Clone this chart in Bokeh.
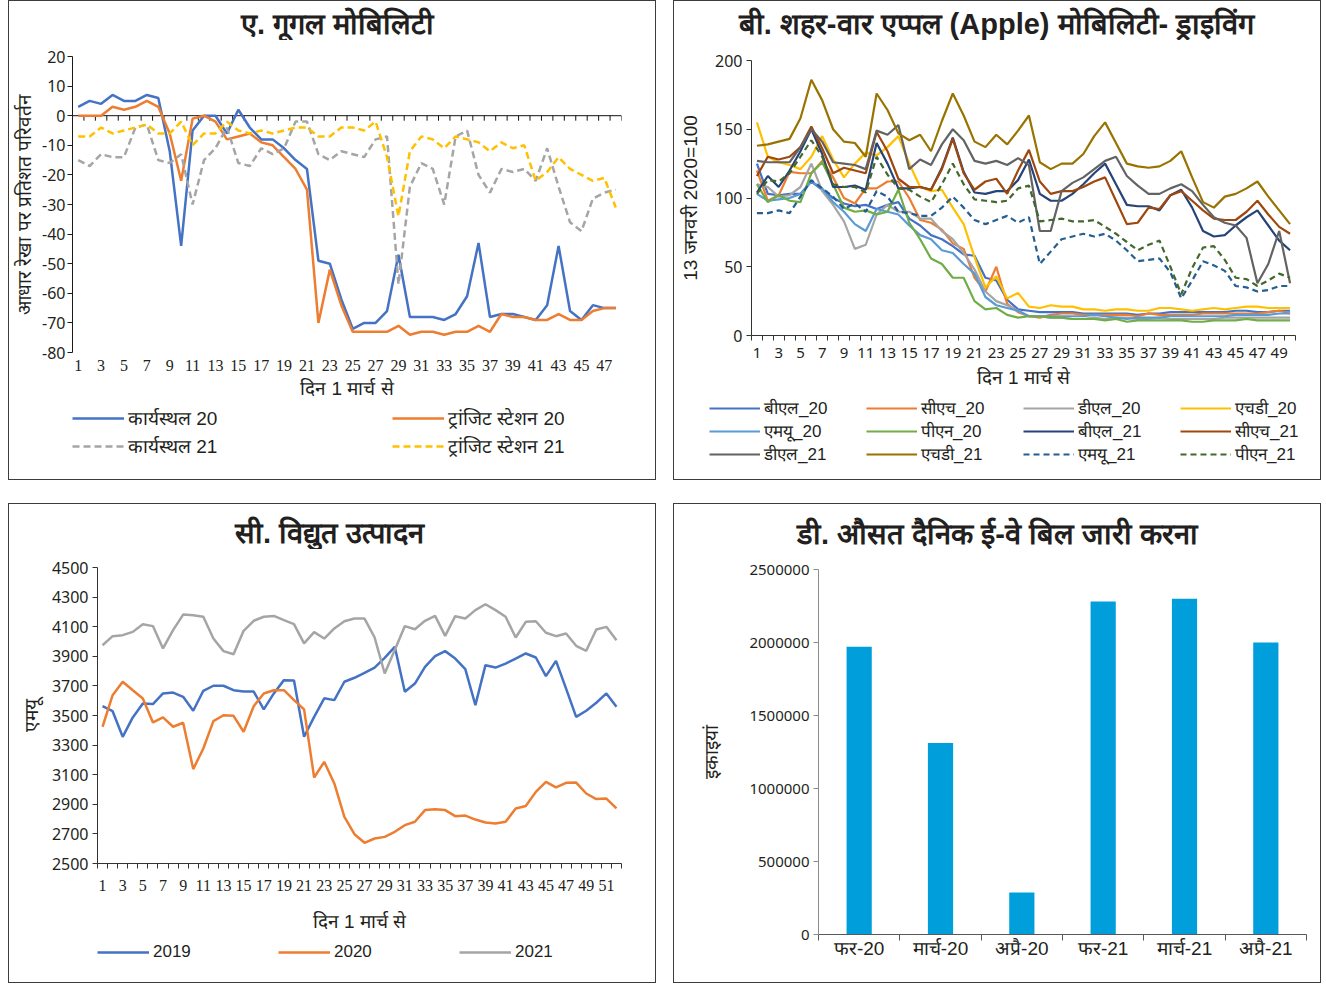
from math import pi

from bokeh.embed import file_html
from bokeh.layouts import column, row
from bokeh.models import FixedTicker, Label, Legend, LegendItem, NumeralTickFormatter, Range1d, Span
from bokeh.plotting import figure
from bokeh.resources import INLINE

HINDI = "Liberation Sans"
SANS = "Noto Sans"
SERIF = "Liberation Serif"
INK = "#231f20"
EDGE = "1px solid #3c3c3c"
NAN = float("nan")

# ---------------- A. Google mobility (days from 1 March) ----------------
google_days = list(range(1, 49))
workplace_20 = [3, 5, 4, 7, 5, 5, 7, 6, -12, -44, -5, 0, 0, -6, 2, -4, -8, -8, -11, -15, -18, -49, -50, -62,
                -72, -70, -70, -66, -47, -68, -68, -68, -69, -67, -61, -43, -68, -67, -67, -68, -69, -64, -44, -66,
                -69, -64, -65, -65]
transit_20 = [0, 0, 0, 3, 2, 3, 5, 3, -6, -22, -1, 0, -2, -8, -7, -6, -9, -10, -14, -18, -25, -70, -52, -64,
              -73, -73, -73, -73, -71, -74, -73, -73, -74, -73, -73, -71, -73, -67, -68, -68, -69, -69, -67, -69,
              -69, -66, -65, -65]
workplace_21 = [-15, -17, -13, -14, -14, -4, -3, -15, -16, -13, -30, -15, -11, -4, -16, -17, -11, -13, -11, -2,
                -2, -13, -15, -12, -13, -14, -8, -7, -57, -24, -16, -18, -30, -7, -5, -20, -26, -18, -19, -18, -22,
                -11, -24, -36, -39, -28, -26, -25]
transit_21 = [-7, -7, -4, -6, -5, -4, -3, -6, -6, -2, -10, -6, -6, -2, -5, -6, -5, -6, -5, -4, -4, -7, -7, -4,
              -4, -5, -2, -14, -34, -12, -7, -8, -11, -7, -8, -9, -12, -9, -11, -10, -22, -19, -14, -18, -20, -22,
              -21, -31]
google_labels = ["कार्यस्थल 20", "ट्रांजिट स्टेशन 20", "कार्यस्थल 21", "ट्रांजिट स्टेशन 21"]
google_ticks = list(range(-80, 21, 10))

# ---------------- B. City-wise Apple mobility, driving ----------------
apple_days = list(range(1, 51))
bl_20 = [125, 103, 102, 103, 103, 112, 106, 100, 96, 94, 95, 92, 95, 97, 85, 80, 73, 70, 65, 59, 58, 42, 40, 26,
         19, 18, 17, 17, 17, 17, 16, 16, 16, 16, 16, 15, 16, 16, 17, 17, 17, 17, 17, 17, 18, 18, 17, 17, 18, 18]
ch_20 = [120, 98, 102, 119, 118, 118, 127, 115, 100, 96, 107, 107, 112, 112, 100, 84, 82, 77, 67, 63, 42, 32, 50,
         23, 17, 14, 13, 15, 16, 16, 15, 15, 15, 15, 15, 14, 16, 15, 15, 15, 15, 16, 16, 16, 16, 16, 16, 17, 18, 16]
dl_20 = [110, 108, 101, 102, 108, 125, 105, 95, 83, 63, 66, 88, 95, 90, 90, 85, 85, 76, 70, 60, 48, 32, 25, 22,
         18, 14, 14, 13, 13, 12, 12, 13, 12, 13, 13, 12, 12, 13, 12, 12, 12, 12, 12, 13, 13, 13, 13, 13, 13, 13]
hd_20 = [155, 130, 126, 124, 121, 130, 145, 128, 115, 125, 133, 131, 137, 145, 125, 108, 105, 106, 93, 81, 57, 35,
         43, 27, 31, 21, 20, 22, 21, 21, 19, 19, 18, 19, 19, 18, 18, 20, 20, 19, 18, 19, 20, 19, 20, 21, 21, 20, 20, 20]
mu_20 = [103, 98, 99, 100, 103, 112, 107, 97, 90, 81, 76, 92, 90, 88, 80, 73, 70, 62, 60, 52, 45, 28, 22, 20,
         18, 14, 14, 14, 14, 14, 14, 15, 14, 13, 12, 13, 13, 13, 14, 14, 14, 14, 14, 14, 15, 15, 15, 15, 16, 16]
pn_20 = [110, 97, 102, 98, 97, 118, 126, 110, 93, 90, 91, 88, 90, 106, 82, 70, 56, 52, 42, 42, 25, 19, 20, 15,
         13, 14, 14, 13, 13, 12, 12, 12, 11, 12, 10, 11, 11, 11, 11, 11, 10, 10, 11, 11, 11, 12, 11, 11, 11, 11]
bl_21 = [104, 116, 108, 120, 134, 150, 132, 108, 108, 109, 106, 140, 125, 107, 107, 108, 106, 122, 144, 119, 104,
         103, 105, 105, 113, 128, 103, 98, 98, 103, 110, 118, 125, 110, 95, 94, 94, 91, 102, 106, 93, 76, 72, 73,
         80, 86, 91, 80, 69, 62]
ch_21 = [116, 130, 128, 130, 137, 152, 136, 118, 122, 120, 118, 148, 134, 114, 108, 108, 106, 121, 143, 118, 106,
         112, 114, 103, 120, 135, 112, 103, 105, 105, 108, 112, 115, 98, 81, 82, 93, 92, 102, 105, 98, 91, 85, 84,
         84, 90, 98, 88, 79, 74]
dl_21 = [127, 126, 126, 126, 137, 150, 141, 126, 125, 124, 121, 149, 146, 153, 121, 128, 124, 139, 150, 142, 127,
         125, 127, 124, 129, 124, 76, 76, 105, 111, 115, 121, 127, 130, 116, 109, 103, 103, 107, 110, 105, 95, 86,
         82, 80, 71, 38, 52, 76, 38]
hd_21 = [138, 139, 141, 143, 158, 186, 171, 150, 141, 140, 130, 176, 164, 147, 142, 146, 134, 156, 176, 160, 141,
         137, 146, 139, 149, 160, 126, 121, 125, 125, 132, 145, 155, 140, 125, 123, 122, 123, 127, 134, 115, 97, 93,
         101, 103, 107, 112, 101, 91, 81]
mu_21 = [89, 89, 91, 89, 101, 113, 107, 101, 92, 96, 90, 105, 101, 90, 89, 87, 87, 93, 101, 93, 84, 81, 84, 87, 82,
         86, 52, 61, 70, 72, 74, 72, 74, 69, 62, 54, 55, 56, 46, 27, 40, 54, 51, 47, 36, 35, 32, 33, 36, 36]
pn_21 = [103, 113, 112, 118, 130, 142, 130, 110, 108, 108, 104, 130, 117, 107, 106, 101, 97, 110, 125, 110, 99, 98,
         97, 98, 107, 109, 83, 84, 85, 83, 83, 84, 79, 74, 68, 62, 66, 69, 50, 30, 49, 64, 65, 55, 42, 41, 36, 40, 45,
         42]
apple_labels = ["बीएल_20", "सीएच_20", "डीएल_20", "एचडी_20", "एमयू_20", "पीएन_20",
                "बीएल_21", "सीएच_21", "डीएल_21", "एचडी_21", "एमयू_21", "पीएन_21"]

# ---------------- C. Electricity generation (MU) ----------------
power_days = list(range(1, 53))
gen_2019 = [3563, 3529, 3356, 3487, 3581, 3577, 3649, 3655, 3626, 3532, 3667, 3701, 3701, 3671, 3662, 3662, 3541,
            3649, 3739, 3737, 3356, 3491, 3616, 3604, 3728, 3755, 3788, 3824, 3890, 3964, 3660, 3716, 3829, 3901,
            3935, 3885, 3813, 3570, 3840, 3824, 3851, 3885, 3919, 3892, 3766, 3869, 3682, 3491, 3532, 3586, 3649,
            3559]
gen_2020 = [3424, 3637, 3728, 3671, 3615, 3453, 3487, 3424, 3451, 3138, 3277, 3462, 3502, 3498, 3390, 3563, 3649,
            3671, 3671, 3604, 3541, 3081, 3187, 3041, 2815, 2698, 2640, 2669, 2680, 2714, 2759, 2782, 2861, 2867,
            2861, 2820, 2824, 2797, 2777, 2771, 2782, 2872, 2888, 2984, 3052, 3014, 3045, 3047, 2973, 2935, 2939,
            2872]
gen_2021 = [3975, 4036, 4043, 4065, 4117, 4104, 3953, 4077, 4182, 4178, 4167, 4020, 3935, 3914, 4072, 4140, 4167,
            4173, 4144, 4117, 3987, 4063, 4020, 4088, 4137, 4155, 4155, 4027, 3784, 3942, 4104, 4083, 4140, 4173,
            4038, 4171, 4155, 4212, 4252, 4212, 4167, 4027, 4133, 4137, 4059, 4036, 4054, 3971, 3937, 4081, 4099,
            4009]
power_labels = ["2019", "2020", "2021"]

# ---------------- D. Average daily e-way bills generated ----------------
months = ["फर-20", "मार्च-20", "अप्रै-20", "फर-21", "मार्च-21", "अप्रै-21"]
eway_bills = [1971000, 1312000, 288000, 2280000, 2300000, 2000000]


def blank_strip(height, styles):
    f = figure(width=648, height=height, x_range=Range1d(0, 1), y_range=Range1d(0, 1),
               x_axis_type=None, y_axis_type=None, output_backend="svg", toolbar_location=None,
               min_border=0, min_border_left=0, min_border_right=0, min_border_top=0, min_border_bottom=0)
    f.styles = styles
    f.outline_line_color = None
    return f


def title_strip(text, cx, cy, height):
    """Heading band across the top of a panel; cx, cy in pixels from its bottom-left."""
    f = blank_strip(height, {"border": EDGE, "border-bottom": "none"})
    f.add_layout(Label(x=cx, y=cy, x_units="screen", y_units="screen", text=text,
                       text_align="center", text_baseline="middle",
                       text_font=HINDI, text_font_size="29px", text_font_style="bold", text_color=INK))
    return f


def key_strip(height, styles, labels, x, y, ncols, glyph_w, row_h, label_w, font_size, spacing, width):
    """Band below a chart holding only its legend."""
    f = blank_strip(height, {"border": EDGE, "border-top": "none"})
    items = []
    for (col, dash), lab in zip(styles, labels):
        r = f.line(x=[NAN], y=[NAN], line_color=col, line_width=width, line_dash=dash)
        items.append(LegendItem(label=lab, renderers=[r]))
    f.add_layout(Legend(items=items, location=(x, y), orientation="horizontal", ncols=ncols,
                        glyph_width=glyph_w, glyph_height=row_h, label_height=row_h, label_width=label_w,
                        label_standoff=4, spacing=spacing, padding=0, margin=0,
                        border_line_color=None, background_fill_alpha=0,
                        label_text_font=HINDI, label_text_font_size=font_size, label_text_color=INK))
    return f


def chart(x_range, y_range, height, left, right, top, bottom, styles):
    p = figure(width=648, height=height, x_range=x_range, y_range=y_range,
               output_backend="svg", toolbar_location=None, min_border=0,
               min_border_left=left, min_border_right=right,
               min_border_top=top, min_border_bottom=bottom)
    p.styles = styles
    p.grid.visible = False
    p.outline_line_color = None
    return p


def style_axis(ax, font, size, color="#1a1a1a"):
    ax.axis_line_color = color
    ax.major_tick_line_color = color
    ax.minor_tick_line_color = color
    ax.major_label_text_font = font
    ax.major_label_text_font_size = size
    ax.major_label_text_color = INK
    ax.axis_label_text_font = HINDI
    ax.axis_label_text_font_size = "19px"
    ax.axis_label_text_font_style = "normal"
    ax.axis_label_text_color = INK


def boundaries(days):
    return [d - 0.5 for d in days] + [days[-1] + 0.5]


def category_ticks(days, step=2):
    """Labels on every other day, tick marks on the boundaries between days."""
    return FixedTicker(ticks=days[::step], minor_ticks=boundaries(days))


SIDES = {"border-left": EDGE, "border-right": EDGE}
SIDES_BOTTOM = {"border": EDGE, "border-top": "none"}

# ---- panel A ----
ta = title_strip("ए. गूगल मोबिलिटी", 328, 18, 40)
pa = chart(Range1d(google_days[0] - 0.5, google_days[-1] + 0.5), Range1d(-80, 20),
           364, 63, 36, 16, 52, SIDES)
pa.add_layout(Span(location=0, dimension="width", line_color="#111111", line_width=1, level="underlay"))
edges = boundaries(google_days)
pa.ray(x=edges, y=[0] * len(edges), length=5, length_units="screen", angle=-pi / 2,
       line_color="#111111", line_width=1)
google_styles = [("#4472c4", "solid"), ("#ed7d31", "solid"), ("#a5a5a5", "7 4"), ("#ffc000", "7 4")]
for vals, (col, dash) in zip([workplace_20, transit_20, workplace_21, transit_21], google_styles):
    pa.line(google_days, vals, line_color=col, line_width=2.5, line_dash=dash)

style_axis(pa.xaxis[0], SERIF, "16px")
pa.xaxis.ticker = FixedTicker(ticks=google_days[::2])
pa.xaxis.axis_line_color = None
pa.xaxis.major_tick_out = 0
pa.xaxis.major_tick_in = 0
pa.xaxis.minor_tick_out = 0
pa.xaxis.minor_tick_in = 0
pa.xaxis.major_label_standoff = 7
pa.xaxis.axis_label = "दिन 1 मार्च से"
pa.xaxis.axis_label_standoff = 4

style_axis(pa.yaxis[0], SANS, "16px")
pa.yaxis.ticker = FixedTicker(ticks=google_ticks)
pa.yaxis.major_label_overrides = {t: str(t) for t in google_ticks}
pa.yaxis.major_tick_out = 5
pa.yaxis.major_tick_in = 0
pa.yaxis.minor_tick_out = 0
pa.yaxis.major_label_standoff = 2
pa.yaxis.axis_label = "आधार रेखा पर प्रतिशत परिवर्तन"
pa.yaxis.axis_label_standoff = 4
ka = key_strip(76, google_styles, google_labels, 63, 21, 2, 52, 24, 262, "19px", 2, 2.5)

# ---- panel B ----
tb = title_strip("बी. शहर-वार एप्पल (Apple) मोबिलिटी- ड्राइविंग", 322, 18, 40)
pb = chart(Range1d(apple_days[0] - 0.5, apple_days[-1] + 0.5), Range1d(0, 200),
           352, 77, 27, 20, 57, SIDES)
apple_styles = [("#4472c4", "solid"), ("#ed7d31", "solid"), ("#a5a5a5", "solid"), ("#ffc000", "solid"),
                ("#5b9bd5", "solid"), ("#70ad47", "solid"), ("#264478", "solid"), ("#9e480e", "solid"),
                ("#636363", "solid"), ("#997300", "solid"), ("#255e91", "6 4"), ("#43682b", "6 4")]
apple_series = [bl_20, ch_20, dl_20, hd_20, mu_20, pn_20, bl_21, ch_21, dl_21, hd_21, mu_21, pn_21]
for vals, (col, dash) in zip(apple_series, apple_styles):
    pb.line(apple_days, vals, line_color=col, line_width=2.2, line_dash=dash)

style_axis(pb.xaxis[0], SANS, "15px", "#333333")
pb.xaxis.ticker = category_ticks(apple_days)
pb.xaxis.major_tick_out = 0
pb.xaxis.major_tick_in = 0
pb.xaxis.minor_tick_out = 5
pb.xaxis.minor_tick_in = 0
pb.xaxis.major_label_standoff = 7
pb.xaxis.axis_label = "दिन 1 मार्च से"
pb.xaxis.axis_label_standoff = 6

style_axis(pb.yaxis[0], SANS, "16px", "#333333")
pb.yaxis.ticker = FixedTicker(ticks=list(range(0, 201, 50)))
pb.yaxis.major_tick_out = 5
pb.yaxis.major_tick_in = 0
pb.yaxis.minor_tick_out = 0
pb.yaxis.major_label_standoff = 4
pb.yaxis.axis_label = "13 जनवरी 2020=100"
pb.yaxis.axis_label_standoff = 11
kb = key_strip(88, apple_styles, apple_labels, 35, 15, 4, 51, 20, 102, "17px", 0, 2.2)

# ---- panel C ----
tc = title_strip("सी. विद्युत उत्पादन", 320, 18, 46)
pc = chart(Range1d(power_days[0] - 0.5, power_days[-1] + 0.5), Range1d(2500, 4500),
           389, 88, 36, 18, 75, SIDES)
power_styles = [("#4472c4", "solid"), ("#ed7d31", "solid"), ("#a5a5a5", "solid")]
for vals, (col, dash) in zip([gen_2019, gen_2020, gen_2021], power_styles):
    pc.line(power_days, vals, line_color=col, line_width=2.5, line_dash=dash)

style_axis(pc.xaxis[0], SERIF, "16px", "#333333")
pc.xaxis.ticker = category_ticks(power_days)
pc.xaxis.major_tick_out = 0
pc.xaxis.major_tick_in = 0
pc.xaxis.minor_tick_out = 5
pc.xaxis.minor_tick_in = 0
pc.xaxis.major_label_standoff = 11
pc.xaxis.axis_label = "दिन 1 मार्च से"
pc.xaxis.axis_label_standoff = 17

style_axis(pc.yaxis[0], SANS, "16px", "#333333")
pc.yaxis.ticker = FixedTicker(ticks=list(range(2500, 4501, 200)))
pc.yaxis.major_tick_out = 5
pc.yaxis.major_tick_in = 0
pc.yaxis.minor_tick_out = 0
pc.yaxis.major_label_standoff = 4
pc.yaxis.axis_label = "एमयू"
pc.yaxis.axis_label_standoff = 7
kc = key_strip(45, power_styles, power_labels, 88, 21, 3, 52, 20, 121, "17px", 4, 2.5)

# ---- panel D ----
td = title_strip("डी. औसत दैनिक ई-वे बिल जारी करना", 323, 17, 46)
pd_ = chart(Range1d(0.5, len(months) + 0.5), Range1d(0, 2500000),
            434, 144, 16, 20, 49, SIDES_BOTTOM)
month_pos = list(range(1, len(months) + 1))
pd_.vbar(x=month_pos, top=eway_bills, width=0.31, fill_color="#009fdb", line_color=None)

style_axis(pd_.xaxis[0], HINDI, "19px", "#595959")
pd_.xaxis.ticker = FixedTicker(ticks=month_pos, minor_ticks=boundaries(month_pos))
pd_.xaxis.major_label_overrides = {m: lab for m, lab in zip(month_pos, months)}
pd_.xaxis.major_tick_out = 0
pd_.xaxis.major_tick_in = 0
pd_.xaxis.minor_tick_out = 6
pd_.xaxis.minor_tick_in = 0
pd_.xaxis.major_label_standoff = -3

style_axis(pd_.yaxis[0], SANS, "15px", "#8c8c8c")
pd_.yaxis.ticker = FixedTicker(ticks=list(range(0, 2500001, 500000)))
pd_.yaxis.formatter = NumeralTickFormatter(format="0")
pd_.yaxis.major_tick_out = 5
pd_.yaxis.major_tick_in = 0
pd_.yaxis.minor_tick_out = 0
pd_.yaxis.major_label_standoff = 4
pd_.yaxis.axis_label = "इकाइयां"
pd_.yaxis.axis_label_standoff = 24


def stack(*figs):
    return column(*[column(f) for f in figs])


page = column(row(stack(ta, pa, ka), stack(tb, pb, kb), spacing=17),
              row(stack(tc, pc, kc), stack(td, pd_), spacing=17), spacing=23)
page.margin = (0, 0, 0, 8)

open("out.html", "w").write(file_html(page, INLINE))
